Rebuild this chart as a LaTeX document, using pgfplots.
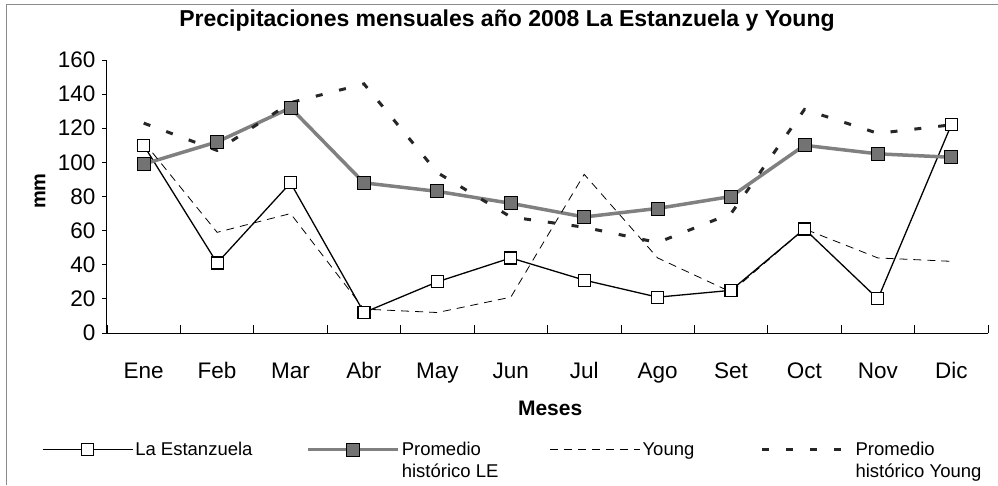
\documentclass[border=0pt]{standalone}
\usepackage{fontspec}
\setmainfont{Liberation Sans}
\usepackage{pgfplots}
\pgfplotsset{compat=1.18}
\usepackage{pgfplotstable}

\pgfplotstableread{
x LE PLE Y PY
0 110 99 112 123
1 41 112 59 107
2 88 132 70 135
3 12 88 14 146
4 30 83 12 94
5 44 76 21 68
6 31 68 93 62
7 21 73 44 53
8 25 80 24 70
9 61 110 61 131
10 20 105 44 117
11 122 103 42 122
}\datatable

\begin{document}
\begin{tikzpicture}
\useasboundingbox (0,0) rectangle (998pt,485pt);
\draw[black!45, line width=0.6pt] (6pt,0) -- (6pt,481pt) -- (998pt,481pt);
\begin{axis}[
  at={(107pt,152pt)}, anchor=south west,
  scale only axis, width=881pt, height=273pt,
  xmin=-0.5, xmax=11.5, ymin=0, ymax=160,
  axis x line=bottom, axis y line=left,
  axis line style={-, black, line width=1pt},
  xtick={0,...,11},
  xticklabels={Ene,Feb,Mar,Abr,May,Jun,Jul,Ago,Set,Oct,Nov,Dic},
  minor xtick={-0.5,0.5,...,11.5},
  ytick={0,20,...,160},
  tick align=outside,
  major tick length=5pt,
  minor tick length=8pt,
  major x tick style={draw=none},
  minor x tick style={black, line width=0.8pt, yshift=8pt},
  ytick style={black, line width=0.8pt},
  /pgf/number format/assume math mode=true,
  ticklabel style={font=\fontsize{22.5}{26}\selectfont},
  xticklabel style={anchor=base, yshift=-40pt},
  yticklabel style={anchor=east, xshift=-3pt},
  title={Precipitaciones mensuales año 2008 La Estanzuela y Young},
  title style={at={(axis description cs:0.454,1.1)}, anchor=base, font=\bfseries\fontsize{23}{26}\selectfont},
  xlabel={Meses},
  xlabel style={at={(axis description cs:0.503,-0.275)}, anchor=center, font=\bfseries\fontsize{21}{24}\selectfont},
  ylabel={mm},
  ylabel style={at={(axis description cs:-0.076,0.52)}, anchor=center, font=\bfseries\fontsize{20}{24}\selectfont},
  legend columns=4,
  legend style={at={(axis description cs:-0.0738,-0.392)}, anchor=north west,
    draw=none, fill=none, inner sep=0pt, outer sep=0pt, column sep=2pt,
    cells={anchor=base west},
    nodes={inner sep=0pt, anchor=base west, font=\fontsize{18.5}{22}\selectfont}},
  legend image code/.code={\draw[mark repeat=2, mark phase=2, #1] plot coordinates {(0pt,6pt) (45pt,6pt) (90pt,6pt)};},
]
\addplot[black, line width=1.3pt, mark=square*, mark size=6pt,
  mark options={fill=white, draw=black, line width=1.2pt, solid}]
  table[x=x, y=LE]{\datatable};
\addlegendentry{\makebox[169pt][l]{La Estanzuela}}
\addplot[black!50, line width=3.5pt, mark=square*, mark size=6.5pt,
  mark options={fill=black!55, draw=black, line width=0.8pt, solid}]
  table[x=x, y=PLE]{\datatable};
\addlegendentry{\makebox[146pt][l]{\begin{tabular}[t]{@{}l@{}}Promedio\\histórico LE\end{tabular}}}
\addplot[black, line width=0.8pt, dash pattern=on 8pt off 6pt]
  table[x=x, y=Y]{\datatable};
\addlegendentry{\makebox[116pt][l]{Young}}
\addplot[black!85, line width=3pt, dash pattern=on 7pt off 17pt]
  table[x=x, y=PY]{\datatable};
\addlegendentry{\begin{tabular}[t]{@{}l@{}}Promedio\\histórico Young\end{tabular}}
\end{axis}
\end{tikzpicture}
\end{document}
